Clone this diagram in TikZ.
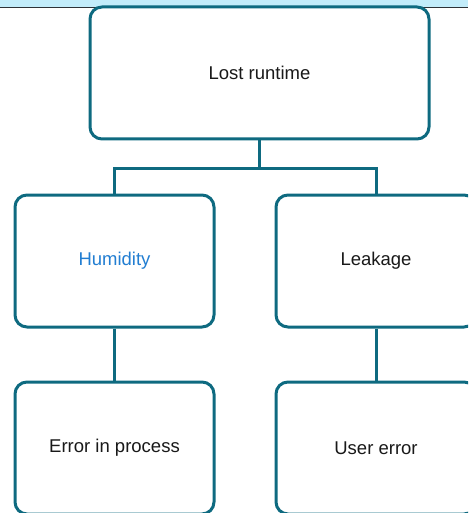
\documentclass[tikz,border=0pt]{standalone}
\usepackage{fontspec}
\setmainfont{Liberation Sans}
\usetikzlibrary{calc}
\definecolor{boxline}{RGB}{14,106,128}
\definecolor{hilite}{RGB}{34,126,210}
\definecolor{bandblue}{RGB}{194,236,250}
\definecolor{bandedge}{RGB}{45,50,55}
\begin{document}
\begin{tikzpicture}[x=1pt,y=-1pt,
  card/.style={draw=boxline, line width=3pt, fill=white, rounded corners=12pt,
    inner sep=0pt, font=\fontsize{18.5}{22}\selectfont, text=black!90},
  link/.style={draw=boxline, line width=3pt}]
  \useasboundingbox (0,0) rectangle (468,513);
  \clip (0,0) rectangle (468,513);
  % header strip
  \fill[bandblue] (0,0) rectangle (468,7.5);
  \draw[bandedge, line width=1pt] (0,7.8) -- (468,7.8);
  % cards
  \node[card, minimum width=339pt, minimum height=132pt] (top) at (259.5,73) {Lost runtime};
  \node[card, minimum width=199pt, minimum height=132pt, text=hilite] (hum) at (114.5,261) {Humidity};
  \node[card, minimum width=200pt, minimum height=132pt] (leak) at (376,261) {Leakage};
  \node[card, minimum width=199pt, minimum height=132pt] (err) at (114.5,448) {Error in process};
  \node[card, minimum width=200pt, minimum height=132pt] (user) at (376,448) {User error};
  % connectors
  \coordinate (bus) at ($(top.south)+(0,28)$);
  \draw[link] (top.south) -- (bus) -| (hum.north);
  \draw[link] (bus) -| (leak.north);
  \draw[link] (hum.south) -- (err.north);
  \draw[link] (leak.south) -- (user.north);
\end{tikzpicture}
\end{document}
